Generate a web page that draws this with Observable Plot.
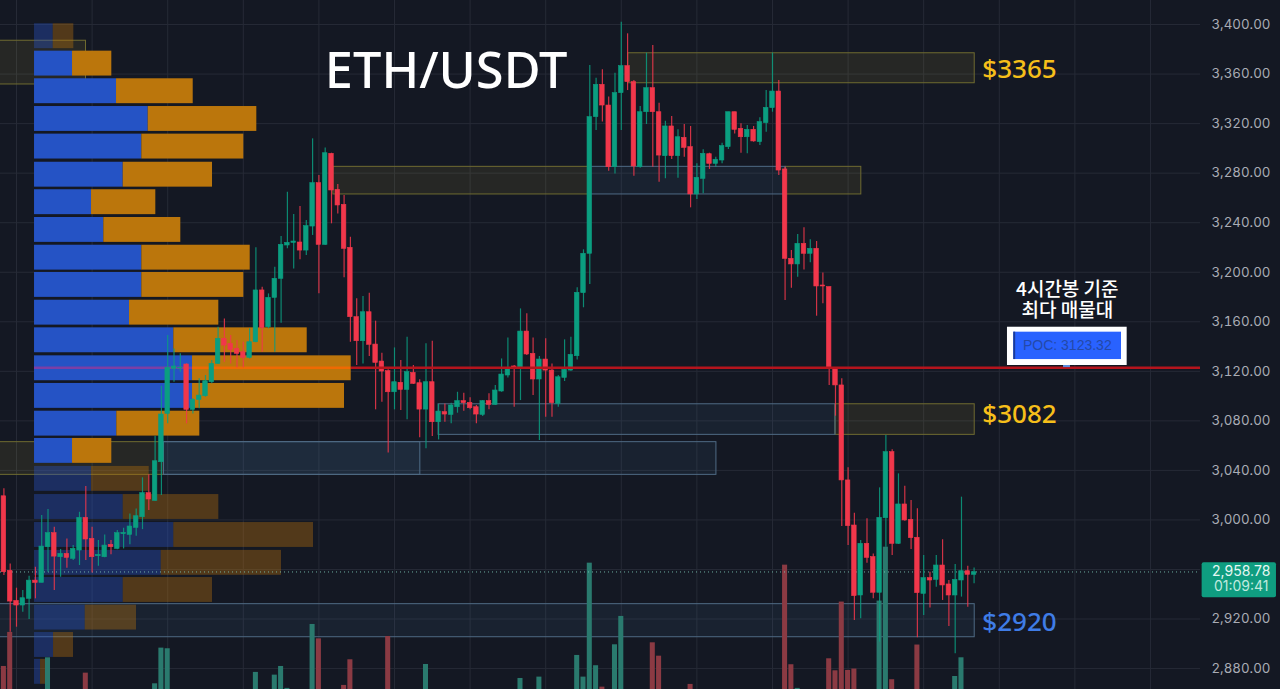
<!DOCTYPE html>
<html>
<head>
<meta charset="utf-8">
<script src="https://cdn.jsdelivr.net/npm/d3@7"></script>
<script src="https://cdn.jsdelivr.net/npm/@observablehq/plot@0.6"></script>
<style>
html,body{margin:0;padding:0;background:#141823;overflow:hidden}
svg{display:block}
</style>
</head>
<body>
<div id="chart"></div>
<script>
const opens=[3019.1,2958.9,2934.6,2930.9,2936.3,2951,2949.2,2978,2989.3,2969.9,
2972.6,2968.6,2975.3,3001.7,2984.7,2970.7,2969.9,2979.9,2976.6,2988.5,
2987.9,2993.6,3002.2,3021.6,3015.4,3046.6,3085.6,3122,3122.3,3125.5,
3088.9,3096.9,3099.9,3111.2,3126,3146.2,3142.2,3138.1,3135.4,3130.9,
3143.5,3185.3,3155.6,3179.3,3194.7,3221.6,3223.7,3224,3217.5,3236.9,
3271.9,3222.1,3295.6,3266.5,3254.4,3219.7,3163.7,3144.3,3167.7,3141.6,
3127.9,3120.1,3103.1,3110.7,3105,3118.7,3110.4,3089.1,3111.2,3078.9,
3087,3084.8,3091,3095.9,3094.5,3091,3084.8,3095.9,3092.9,3103.7,
3116.6,3123.9,3122.5,3152.1,3134.1,3113.4,3129.5,3120.6,3093.7,3114.7,
3120.6,3132.2,3183.1,3214.9,3325.2,3351.3,3334.6,3284.8,3344.6,3366.4,
3353.5,3284.8,3329.2,3348.6,3329.2,3293.7,3317.7,3293.7,3308.5,3301,
3262.8,3275.4,3295.3,3287.5,3290.2,3301,3329.2,3315.8,3309,3315,
3305,3320.4,3332.5,3345.9,3283,3210.8,3206.3,3222.9,3214.9,3218.9,
3189.3,3188,3122.8,3108.6,3031.9,2995.5,2939,2980.7,2970,2941.2,
3001.4,3054.7,2980.7,3012.5,3000.1,2985.6,2940.3,2953,2951.6,2963.2,
2947.9,2939,2951.1,2958.6,2955.7];
const closes=[2957.8,2934.1,2930.9,2936.8,2951,2949.2,2978.5,2989.3,2970.4,2972.6,
2969.4,2976.6,3001.7,2984.2,2969.9,2971.8,2979.3,2978,2989.3,2989.5,
2994.7,3003,3021.6,3016.5,3047.4,3085.1,3122.8,3123.9,3122.8,3088.9,
3096.9,3100.4,3112,3126,3146.2,3140.8,3137.3,3134.1,3130.9,3143.5,
3185.3,3155,3179.3,3194.7,3222.1,3223.7,3224.8,3217.5,3237.2,3271.9,
3222.1,3296.1,3266,3253.9,3218.9,3163.7,3144.3,3167.7,3141.4,3126.8,
3119.8,3103.1,3111.2,3105,3119.3,3109.9,3089.1,3111.2,3078.9,3087.5,
3085.1,3092.4,3095.9,3094.3,3090.2,3085.1,3095.9,3092.9,3104.5,3117.4,
3122.8,3122.5,3152.1,3133.6,3113.4,3129.5,3120.6,3094.3,3115.2,3121.2,
3133.3,3183.4,3214.9,3325.2,3351.3,3334.6,3284.8,3344.6,3366.4,3353.5,
3285.4,3329.2,3348.6,3329.2,3294.2,3317.7,3293.7,3309,3300.4,3262.8,
3276.2,3295.6,3287.5,3290.8,3301.8,3329.2,3315,3309,3315,3305.6,
3321.2,3332.7,3345.9,3282.1,3210.8,3206.3,3222.9,3214.9,3218.9,3188.5,
3188.5,3122,3108.6,3031.9,2995,2938.5,2980.7,2969.4,2941.2,3001.7,
3054.7,2980.7,3012.5,2999.6,2985.3,2940.9,2953,2951.1,2963.2,2947.1,
2939,2951.6,2958.6,2955.7,2957.8];
const highs=[3025.1,2964.5,2944.9,2943,2954.6,2961.8,3003.5,3008.4,2994.1,2976.1,
2984.7,2979.3,3006.2,3027,2994.1,2983.4,2987.9,2983.4,2991.4,2993.3,
3004.9,3008.9,3034,3036.4,3067.6,3108,3148.9,3138.1,3134.1,3126,
3097.8,3113.9,3116.6,3128.7,3155.6,3162.3,3148.9,3144.9,3143.5,3154.3,
3219.7,3187.9,3182.5,3204.1,3228.8,3264.6,3246.6,3253.1,3241.8,3307.7,
3278.1,3300.4,3296.1,3270.8,3262,3228.3,3178.5,3180.4,3183.1,3160.5,
3134.6,3121.2,3138.9,3128.7,3147.5,3124.7,3113.1,3142.2,3144.3,3093.2,
3093.7,3094.3,3103.1,3102.3,3098.6,3092.4,3096.4,3101.8,3108.5,3130,
3147,3124.7,3170.4,3166.4,3147,3131.9,3146.2,3126,3116.6,3145.4,
3147.5,3187.4,3218.1,3366.9,3356.7,3363.4,3341.4,3360.7,3401.9,3392.5,
3354.8,3333.8,3376.9,3383.1,3336.5,3321.9,3325.7,3315,3319.3,3317.7,
3287.5,3298.8,3296.1,3292.9,3304.2,3329.2,3329.2,3319.8,3318.5,3317.7,
3324.7,3346.7,3377,3354.8,3284.8,3217.6,3230.5,3235.9,3226.2,3224.8,
3199.3,3188,3122.8,3113.9,3042.1,3005.5,2983.4,3000.9,2972.6,3025.9,
3068.2,3056.6,3037.2,3027.3,3015.7,3009,2971.3,2957.8,2971.3,2984,
2951.1,2964,3018.4,2962.7,2961.3];
const lows=[2955.1,2909.3,2913.4,2925.5,2919.6,2936.3,2949.2,2957.8,2943,2953.8,
2961,2967.2,2963.2,2967.2,2957.2,2962.6,2969.4,2971.8,2976,2976.6,
2979.9,2986.9,2992.2,3007.6,3015.1,3019.7,3077.6,3111.2,3119.3,3077.6,
3085.6,3089.7,3099.1,3109.9,3125.5,3127.4,3126,3122.8,3122.8,3130,
3143,3135.4,3154.3,3135.4,3158.9,3218.9,3202.7,3210,3213.5,3229.7,
3182.6,3221.6,3239.1,3247.1,3195.5,3143.5,3124.7,3126,3132,3088.9,
3095,3054,3088.9,3088.3,3080.8,3109.4,3066.3,3057.4,3067.3,3064.6,
3078.9,3077.6,3086.2,3087.8,3088.9,3077.6,3083.5,3088.9,3092.4,3103.1,
3114.7,3091,3096.4,3132.7,3100.4,3064.1,3083,3083,3091,3111.8,
3120,3129.2,3171.3,3190.1,3314.4,3321.2,3281.6,3279.4,3314.4,3346.7,
3277.6,3284,3319.3,3284.8,3272.7,3275.4,3291,3275.9,3292.9,3252,
3258.7,3263.3,3283,3284.8,3287.5,3299.1,3311.7,3296.1,3295.6,3305,
3302.3,3313.1,3329.2,3278.1,3177.2,3187.1,3196,3201.9,3207.6,3164.5,
3174.5,3108.6,3083.8,2994.7,2979.4,2918.8,2920.2,2965.1,2936.3,2901.3,
2978,2971.3,2980.2,2999,2976.1,2904.8,2922.9,2929,2945.7,2935,
2914,2891.9,2937.7,2929.6,2948.4];

const volBase=2863;
const volIndex=[0,1,7,13,24,25,26,40,43,44,45,49,50,54,55,61,67,82,85,91,92,93,94,95,97,98,103,104,109,124,125,126,131,132,133,134,135,139,140,141,145,151,152];
const volAmount=[18.7,46.2,25.7,13.3,4.7,33.5,33,13.9,11.7,18.7,1,52.6,41,3.4,24.1,42.9,20.3,9,10.1,27.6,10.1,102.1,19.3,2,36.2,59.1,37.8,27,4.2,100.5,20.1,1,24.9,15.2,70.7,15.5,16.6,71.5,115,8,36,10.6,25.7];

const profileTop=[3400.6,3378.5,3356.2,3333.8,3311.5,3288.8,3266.6,3244.2,3221.8,3199.8,3177.4,3155.1,3132.5,3110.2,3087.8,3065.8,3043.2,3020.5,2997.9,2975.4,2953.5,2931.2,2909.1,2887.4];
const profileBuy=[18.7,38,82,113.7,107.3,88.7,57,69.3,107.3,107.3,95,139.3,158,158,82.3,38,57,88.7,139.3,126.7,88.7,50.7,19,6];
const profileSell=[20.6,39.3,76.7,108.6,102,89.3,64.3,77,108.4,102,89.3,133.4,158.7,152,83,39.3,57.7,95.6,139.7,120.3,89.3,51.3,20,6];
const profileFaded=[0,16,17,18,19,20,21,22,23];
const profileBinHeight=20.1, profileStart=4.86, profileUnit=6.3;

const axisTicks=[2880,2920,3000,3040,3080,3120,3160,3200,3240,3280,3320,3360,3400];
const gridY=[2880,2920,2960,3000,3040,3080,3120,3160,3200,3240,3280,3320,3360,3400];
const gridX=[2,14,26,38,50,62,74,86,98,110,122,134,146,158,170,182];

const yellowZones=[[-2,13.03,3386.9,3351.6],[52.3,93.1,3285.1,3262.8],[124.1,136.1,3285.1,3262.8],[99.1,154.1,3376.8,3352.6],[132,154.1,3093.4,3068.7],[-2,25.4,3062.8,3036.4]];
const blueZones=[[93.1,124.1,3285.1,3262.8],[69,132,3093.4,3068.7],[25.4,66.1,3062.8,3036.4],[25.4,113.1,3062.8,3036.4],[-2,154.1,2932,2905.3]];

const pocPrice=3122.8, lastPrice=2958;
const priceLabels=[{t:"$3365",p:3363.7,c:"#f6bf1a"},{t:"$3082",p:3085.1,c:"#f6bf1a"},{t:"$2920",p:2917.2,c:"#3f7ce6"}];
const noteText="4시간봉 기준\n최다 매물대";

const candles=opens.map((o,i)=>({i,o,c:closes[i],h:highs[i],l:lows[i],up:closes[i]>=o}));
const UP="#0b9e80", DOWN="#f1374b";
const vols=volIndex.map((i,k)=>({i,v:volAmount[k],up:candles[i].up}));
const rows=profileTop.map((top,k)=>({top,buy:profileBuy[k],sell:profileSell[k],faded:profileFaded.includes(k)}));
const toX=v=>profileStart+v/profileUnit;

const zoneMark=(arr,fill,opacity,stroke)=>Plot.rect(arr,{x1:d=>d[0],x2:d=>d[1],y1:d=>d[3],y2:d=>d[2],fill,fillOpacity:opacity,stroke,strokeWidth:1});
const profMark=(faded,x1,x2,fill)=>Plot.rect(rows.filter(r=>r.faded===faded),{x1,x2,y1:r=>r.top-profileBinHeight,y2:r=>r.top,fill,fillOpacity:faded?0.38:1});

const chart=Plot.plot({
  width:1280,height:689,marginTop:0,marginBottom:0,marginLeft:0,marginRight:80,
  style:{background:"#141823"},
  x:{axis:null,domain:[-0.54,189.94],range:[0,1200]},
  y:{axis:null,domain:[2863.1,3419.4],range:[689,0]},
  marks:[
    Plot.ruleY(gridY,{x1:-0.54,x2:189.94,stroke:"#262a36",strokeWidth:1}),
    Plot.ruleX(gridX,{y1:2863.1,y2:3419.4,stroke:"#262a36",strokeWidth:1}),
    zoneMark(yellowZones,"#e8d44a",0.085,"#6f6b30"),
    zoneMark(blueZones,"#5b9bd5",0.075,"#4f6a84"),
    profMark(false,r=>toX(0),r=>toX(r.buy),"#2553c5"),
    profMark(false,r=>toX(r.buy),r=>toX(r.buy+r.sell),"#bb760c"),
    profMark(true,r=>toX(0),r=>toX(r.buy),"#2a55c8"),
    profMark(true,r=>toX(r.buy),r=>toX(r.buy+r.sell),"#b8700c"),
    Plot.rect(vols,{x1:d=>d.i-0.4,x2:d=>d.i+0.4,y1:volBase,y2:d=>volBase+d.v,fill:d=>d.up?"#2a7a6e":"#8b3a43"}),
    Plot.ruleY([pocPrice],{x1:toX(0),x2:toX(158),stroke:"#7b3fa6",strokeWidth:2.5}),
    Plot.ruleY([pocPrice],{x1:toX(158),x2:toX(316.7),stroke:"#ee6a02",strokeWidth:2.5}),
    Plot.ruleY([lastPrice],{x1:-0.54,x2:189.94,stroke:"#7ec9b8",strokeWidth:1,strokeDasharray:"1 3",strokeOpacity:0.85}),
    Plot.ruleX(candles,{x:"i",y1:"l",y2:"h",stroke:d=>d.up?UP:DOWN,strokeWidth:1.2,strokeOpacity:0.85}),
    Plot.rect(candles,{x1:d=>d.i-0.36,x2:d=>d.i+0.36,y1:d=>Math.min(d.o,d.c),y2:d=>Math.max(d.o,d.c),fill:d=>d.up?UP:DOWN,stroke:d=>d.up?UP:DOWN,strokeWidth:0.6}),
    Plot.ruleY([pocPrice],{x1:toX(316.7),x2:189.94,stroke:"#b5141d",strokeWidth:2.5}),
    Plot.text(["ETH/USDT"],{x:70.2,y:3361.7,text:d=>d,fill:"#ffffff",fontFamily:"Noto Sans",fontSize:50.5,fontWeight:500,textAnchor:"middle",lineAnchor:"middle"}),
    Plot.text(priceLabels,{x:155.3,y:"p",text:"t",fill:"c",fontFamily:"Noto Sans",fontSize:26,fontWeight:500,textAnchor:"start",lineAnchor:"middle"}),
    Plot.text([noteText],{x:168.8,y:3177.6,text:d=>d,fill:"#ffffff",fontFamily:"Noto Sans CJK KR",fontSize:19,fontWeight:500,lineHeight:1.1,textAnchor:"middle",lineAnchor:"middle"}),
    Plot.rect([0],{x1:159.3,x2:178.3,y1:3124.7,y2:3155.6,fill:"#ffffff"}),
    Plot.rect([0],{x1:160.3,x2:177.4,y1:3129.5,y2:3151.6,fill:"#2962ff"}),
    Plot.rect([0],{x1:160.3,x2:160.6,y1:3129.5,y2:3151.6,fill:"#1b3a96"}),
    Plot.rect([0],{x1:168.2,x2:169.3,y1:3123,y2:3124.7,fill:"#5b8de0"}),
    Plot.text(["POC: 3123.32"],{x:168.8,y:3140.8,text:d=>d,fill:"#2449a8",fontFamily:"Liberation Sans",fontSize:14,textAnchor:"middle",lineAnchor:"middle"}),
    Plot.rect([0],{x1:190.2,x2:202,y1:2937.1,y2:2965.4,fill:"#0f9d80",rx:2}),
    Plot.text(["2,958.78"],{x:196.4,y:2958.4,text:d=>d,fill:"#e6f7f3",fontFamily:"Inter",fontSize:14,textAnchor:"middle",lineAnchor:"middle"}),
    Plot.text(["01:09:41"],{x:196.4,y:2946.3,text:d=>d,fill:"#bfeadf",fontFamily:"Inter",fontSize:14,textAnchor:"middle",lineAnchor:"middle"}),
    Plot.axisY(axisTicks,{anchor:"right",tickSize:0,tickPadding:11,label:null,tickFormat:d=>d3.format(",.2f")(d),fill:"#a9acb5",fontFamily:"Inter",fontSize:13.3})
  ]
});
document.getElementById("chart").appendChild(chart);
</script>
</body>
</html>
